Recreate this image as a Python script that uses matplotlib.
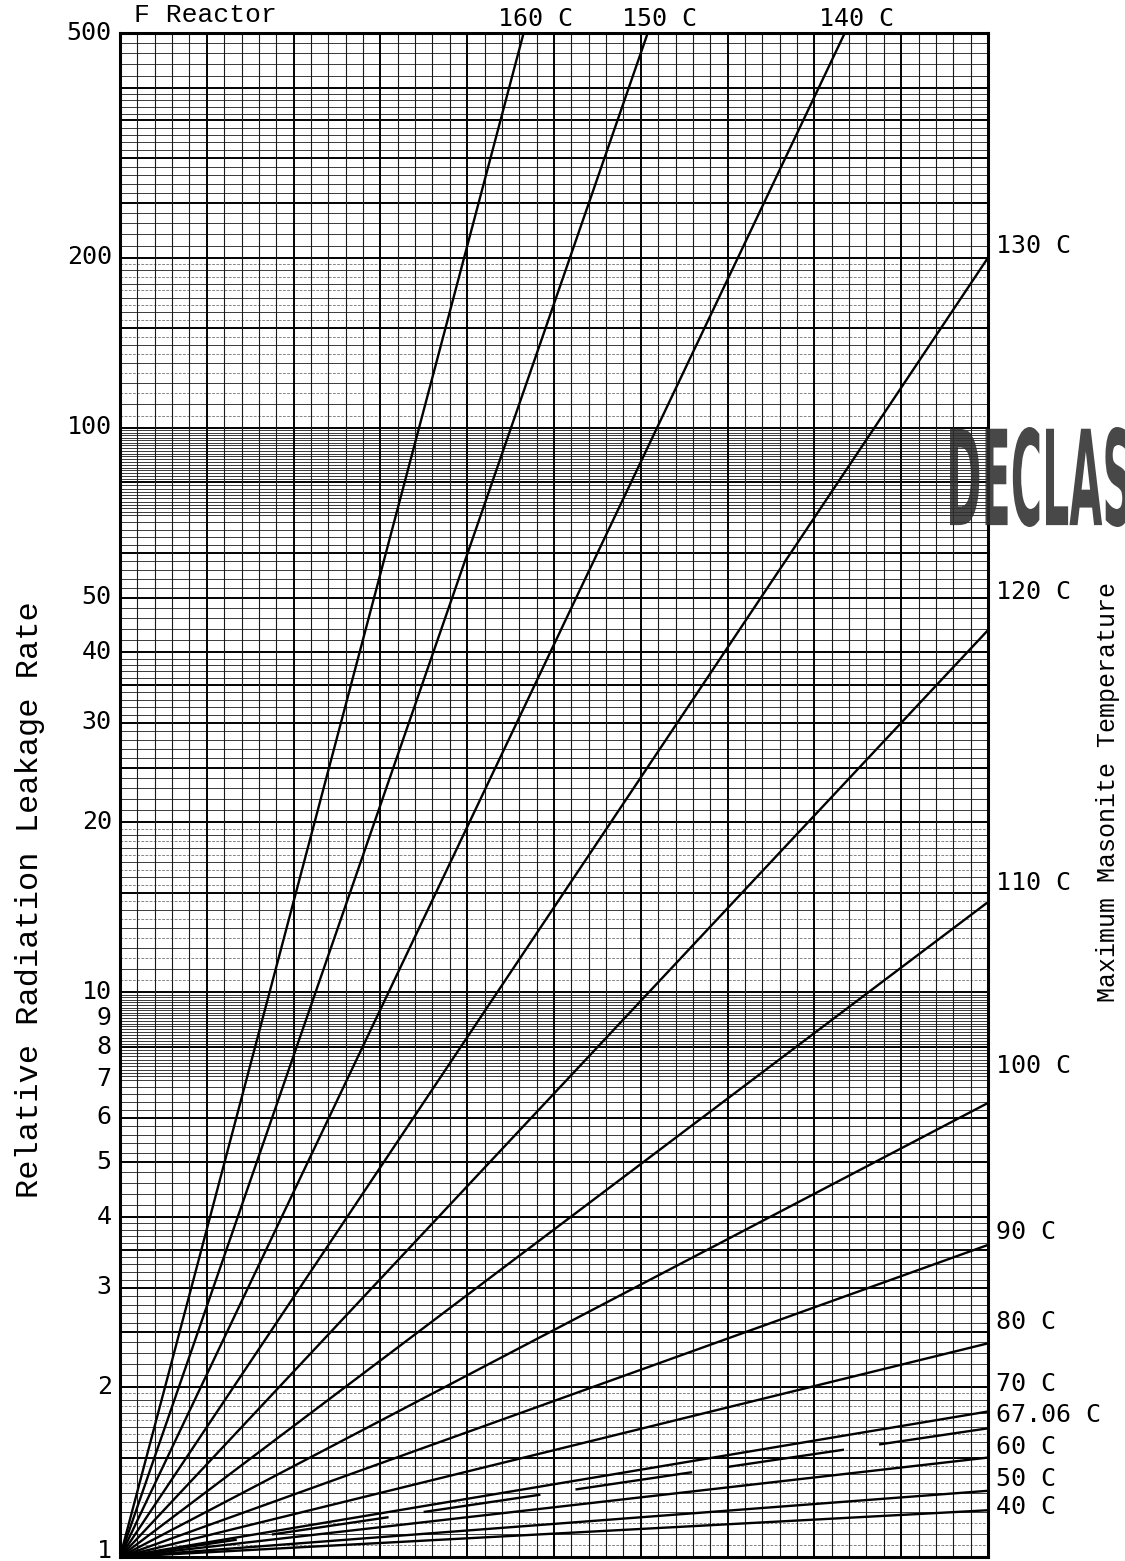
import numpy as np
import matplotlib
matplotlib.use("Agg")
import matplotlib.pyplot as plt
from matplotlib.textpath import TextPath
from matplotlib.patches import PathPatch
from matplotlib.font_manager import FontProperties
from matplotlib.transforms import Affine2D, ScaledTranslation

# -----------------------------
# Data
# -----------------------------
# every line starts at (0, 1); end point is where it leaves the grid
curve_labels = ["160 C", "150 C", "140 C", "130 C", "120 C", "110 C", "100 C",
                "90 C", "80 C", "70 C", "67.06 C", "60 C", "50 C", "40 C"]
end_x = [4.65, 6.08, 8.35, 10, 10, 10, 10, 10, 10, 10, 10, 10, 10, 10]
end_y = [500, 500, 500, 200, 43.8, 14.45, 6.37, 3.57, 2.39, 1.81, 1.69, 1.50, 1.31, 1.21]
dashed_curve = "67.06 C"

y_tick_values = [1, 2, 3, 4, 5, 6, 7, 8, 9, 10, 20, 30, 40, 50, 100, 200, 500]
y_tick_labels = [str(v) for v in y_tick_values]

# -----------------------------
# Layout
# -----------------------------
W, H = 1125, 1561
px = 0.72  # points per pixel at dpi 100

fig = plt.figure(figsize=(W / 100, H / 100), dpi=100)
ax = fig.add_axes([120 / W, 4 / H, 868 / W, 1524 / H])
# log paper: the y axis carries log10 of the rate so that lines stay straight
ax.set_xlim(0, 10)
ax.set_ylim(0, np.log10(500))

# lift of each right-hand label above its line end, in pixels
right_lift = {"130 C": 12, "120 C": 38, "110 C": 19, "100 C": 37, "90 C": 13,
              "80 C": 21, "70 C": 27, "67.06 C": 13, "60 C": 11, "50 C": 12, "40 C": 3}

mono = "DejaVu Sans Mono"
typewriter = "Liberation Mono"

# -----------------------------
# Graph paper
# -----------------------------
heavy_marks = [1, 1.5, 2, 2.5, 3, 3.5, 4, 5, 6, 8]
for dec in [1, 10, 100]:
    for f in np.round(np.arange(1.0, 10.0, 0.05), 2):
        v = f * dec
        if v > 500:
            continue
        yv = np.log10(v)
        tenth = abs(f * 10 - round(f * 10)) < 1e-6
        fifth = abs(f * 5 - round(f * 5)) < 1e-6
        if f in heavy_marks:
            ax.axhline(yv, color="black", lw=1.4, zorder=1)
        elif (f < 4 or f >= 7) and tenth:
            ax.axhline(yv, color="#1a1a1a", lw=0.6, zorder=1)
        elif 4 <= f < 7 and fifth:
            ax.axhline(yv, color="#1a1a1a", lw=0.6, zorder=1)
        elif f < 2:
            # half steps in the lower part of each cycle, printed lighter
            ax.axhline(yv, color="#555555", lw=0.5, ls=(0, (4, 2)), zorder=1)

for xv in np.arange(0, 10.01, 0.2):
    if abs(xv - round(xv)) < 1e-6:
        ax.axvline(xv, color="black", lw=1.4, zorder=1)
    else:
        ax.axvline(xv, color="#1a1a1a", lw=0.8, zorder=1)

for s in ax.spines.values():
    s.set_linewidth(2.2)
    s.set_zorder(5)

# -----------------------------
# Curves
# -----------------------------
top = np.log10(500)
for lab, xe, ye in zip(curve_labels, end_x, end_y):
    ls = (0, (50, 15)) if lab == dashed_curve else "-"
    ax.plot([0, xe], np.log10([1, ye]), color="black", lw=1.7, ls=ls, zorder=4,
            solid_capstyle="butt")
    if ye >= 500:
        ax.annotate(lab, xy=(xe, top), xytext=(12 * px, 2 * px),
                    textcoords="offset points", ha="center", va="bottom",
                    fontsize=18, family=mono, annotation_clip=False)
    else:
        ax.annotate(lab, xy=(xe, np.log10(ye)), xytext=(8 * px, right_lift[lab] * px),
                    textcoords="offset points", ha="left", va="center",
                    fontsize=18, family=mono, annotation_clip=False)

# -----------------------------
# Axes text
# -----------------------------
ax.set_yticks(np.log10(y_tick_values))
ax.set_yticklabels(y_tick_labels, family=mono, fontsize=18)
ax.set_xticks([])
ax.tick_params(axis="y", length=0, pad=6)
for t in ax.get_yticklabels():
    lift = 9 if t.get_text() == "1" else 3
    t.set_transform(t.get_transform() + ScaledTranslation(0, lift / 100, fig.dpi_scale_trans))

ax.text(0.016, 1.004, "F Reactor", transform=ax.transAxes, ha="left", va="bottom",
        fontsize=19, family=typewriter)

fig.text(30 / W, 1 - 900 / H, "Relative Radiation Leakage Rate", rotation=90,
         ha="center", va="center", fontsize=23, family=typewriter)
fig.text(1108 / W, 1 - 792 / H, "Maximum Masonite Temperature", rotation=90,
         ha="center", va="center", fontsize=18, family=typewriter)

# -----------------------------
# Declassification stamp
# -----------------------------
tp = TextPath((0, 0), "DECLAS", size=1, prop=FontProperties(family="DejaVu Sans", weight="bold"))
ext = tp.get_extents()
box_left, box_top, box_w, box_h = 950, 427, 180, 100
tr = (Affine2D()
      .translate(-ext.x0, -ext.y0)
      .scale(box_w / ext.width / W, box_h / ext.height / H)
      .translate(box_left / W, 1 - (box_top + box_h) / H))
fig.add_artist(PathPatch(tp, transform=tr + fig.transFigure, facecolor="#2e2e2e",
                         edgecolor="none", alpha=0.88, zorder=10))

fig.savefig("out.png", dpi=100)
